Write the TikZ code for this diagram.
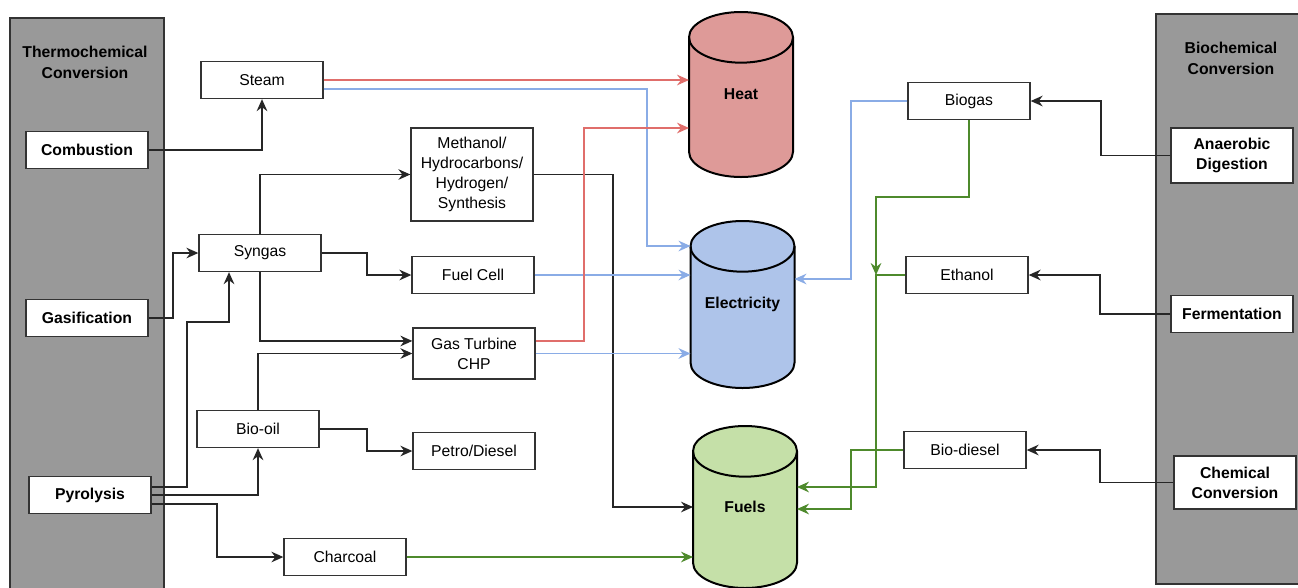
\documentclass[tikz,border=0pt]{standalone}
\usepackage{fontspec}
\setmainfont{Liberation Sans}
\usetikzlibrary{arrows.meta,backgrounds}

\definecolor{panelgray}{HTML}{999999}
\definecolor{edgegray}{HTML}{333333}
\definecolor{heatfill}{HTML}{DE9A98}
\definecolor{elecfill}{HTML}{AEC4EA}
\definecolor{fuelfill}{HTML}{C5E0A8}
\definecolor{heatline}{HTML}{E06E6B}
\definecolor{elecline}{HTML}{8AACE6}
\definecolor{fuelline}{HTML}{4E8A2C}

\newcommand\tankrx{39pt}
\newcommand\tankry{19pt}
\newcommand\drawtank[2]{%
  \filldraw[fill=#2, draw=black, line width=1.5pt]
    ([yshift=-\tankry]#1.north west) -- ([yshift=\tankry]#1.south west)
    arc[start angle=180, end angle=360, x radius=\tankrx, y radius=\tankry]
    -- ([yshift=-\tankry]#1.north east)
    arc[start angle=0, end angle=180, x radius=\tankrx, y radius=\tankry] -- cycle;
  \draw[line width=1.5pt] ([yshift=-\tankry]#1.north west)
    arc[start angle=180, end angle=360, x radius=\tankrx, y radius=\tankry];
}

\begin{document}
\begin{tikzpicture}[x=0.75pt,y=0.75pt,
    font=\fontsize{11.8}{15}\selectfont,
    proc/.style={draw=edgegray, fill=white, line width=1pt, minimum width=91.5pt,
      minimum height=27.75pt, inner sep=0pt, align=center},
    stage/.style={proc, font=\fontsize{11.8}{15}\selectfont\bfseries},
    paneltitle/.style={align=center, font=\fontsize{11.8}{15.75}\selectfont\bfseries},
    panel/.style={fill=panelgray, draw=edgegray, line width=1pt},
    tank/.style={minimum width=78pt, inner sep=0pt, outer sep=0pt,
      font=\fontsize{11.8}{15}\selectfont\bfseries},
    flow/.style={line width=0.9pt, draw=black!85,
      -{Stealth[length=9pt,width=8pt,inset=3pt]}},
    heatflow/.style={flow, draw=heatline},
    elecflow/.style={flow, draw=elecline},
    fuelflow/.style={flow, draw=fuelline}]

  \useasboundingbox (0,0) rectangle (1298,-587);

  % conversion routes
  \node[paneltitle] (thermo) at (85,-62.5) {Thermochemical\\Conversion};
  \node[stage] (comb) at (87,-150) {Combustion};
  \node[stage] (gasif) at (87,-318) {Gasification};
  \node[stage] (pyro) at (90,-495) {Pyrolysis};

  \node[paneltitle] (biochem) at (1231,-58.5) {Biochemical\\Conversion};
  \node[stage, minimum height=41.25pt] (anaer) at (1232,-155.5) {Anaerobic\\Digestion};
  \node[stage] (ferment) at (1232,-314) {Fermentation};
  \node[stage, minimum height=39.75pt] (chem) at (1235,-482.5) {Chemical\\Conversion};

  % intermediate products
  \node[proc] (steam) at (262,-80) {Steam};
  \node[proc] (syngas) at (260,-253) {Syngas};
  \node[proc] (biooil) at (258,-429) {Bio-oil};
  \node[proc] (charcoal) at (345,-557) {Charcoal};
  \node[proc, minimum height=69.75pt] (methanol) at (472,-174.5)
    {Methanol/\\Hydrocarbons/\\Hydrogen/\\Synthesis};
  \node[proc] (fuelcell) at (473,-275) {Fuel Cell};
  \node[proc, minimum height=38.25pt] (turbine) at (474,-353.5) {Gas Turbine\\CHP};
  \node[proc] (petro) at (474,-451) {Petro/Diesel};

  \node[proc] (biogas) at (969,-101) {Biogas};
  \node[proc] (ethanol) at (967,-275) {Ethanol};
  \node[proc] (biodiesel) at (965,-450) {Bio-diesel};

  % end uses
  \node[tank, minimum height=123.75pt] (heat) at (741,-94.5) {Heat};
  \node[tank, minimum height=125.25pt] (elec) at (742.5,-304.5) {Electricity};
  \node[tank, minimum height=121.5pt] (fuels) at (745,-507) {Fuels};

  \begin{scope}[on background layer]
    \fill[white] (0,0) rectangle (1298,-587);
    \draw[panel] (10,-18) rectangle (164,-600);
    \draw[panel] (1156,-14) rectangle (1305,-584);
    \drawtank{heat}{heatfill}
    \drawtank{elec}{elecfill}
    \drawtank{fuels}{fuelfill}
  \end{scope}

  \draw[flow] (comb.east) -| (steam.south);
  \draw[flow] (gasif.east) -| (173,-253) -- (syngas.west);
  \draw[flow] ([yshift=6pt]pyro.east) -| (187,-322) -| ([xshift=-23.25pt]syngas.south);
  \draw[flow] (pyro.east) -| (biooil.south);
  \draw[flow] ([yshift=-6.75pt]pyro.east) -| (217,-530) |- (charcoal.west);
  \draw[flow] (syngas.north) |- (methanol.west);
  \draw[flow] (syngas.east) -| (367,-275) -- (fuelcell.west);
  \draw[flow] (syngas.south) |- ([yshift=9.4pt]turbine.west);
  \draw[flow] (biooil.north) |- (turbine.west);
  \draw[flow] (biooil.east) -| (367,-451) -- (petro.west);
  \draw[flow] (methanol.east) -| (613,-400) |- (fuels.west);

  \draw[heatflow] (steam.east) -- (steam.east -| heat.west);
  \draw[elecflow] ([yshift=-6.75pt]steam.east) -| (647,-246) -- (elec.west |- 647,-246);
  \draw[elecflow] (fuelcell.east) -- (fuelcell.east -| elec.west);
  \draw[heatflow] ([yshift=9.4pt]turbine.east) -| (584,-128) -- (heat.west |- 584,-128);
  \draw[elecflow] (turbine.east) -- (turbine.east -| elec.west);
  \draw[fuelflow] (charcoal.east) -- (charcoal.east -| fuels.west);

  \draw[flow] (anaer.west) -| (1101,-130) |- (biogas.east);
  \draw[flow] (ferment.west) -| (1100,-290) |- (ethanol.east);
  \draw[flow] (chem.west) -| (1100,-470) |- (biodiesel.east);

  \coordinate (merge) at (876,-275);
  \draw[elecflow] (biogas.west) -| (851,-279) -- (elec.east |- 851,-279);
  \draw[fuelflow] (biogas.south) |- (876,-197) -- (merge);
  \draw[fuelflow] (ethanol.west) -| (876,-487) -- (fuels.east |- 876,-487);
  \draw[fuelflow] (biodiesel.west) -| (851,-509) -- (fuels.east |- 851,-509);
\end{tikzpicture}
\end{document}
